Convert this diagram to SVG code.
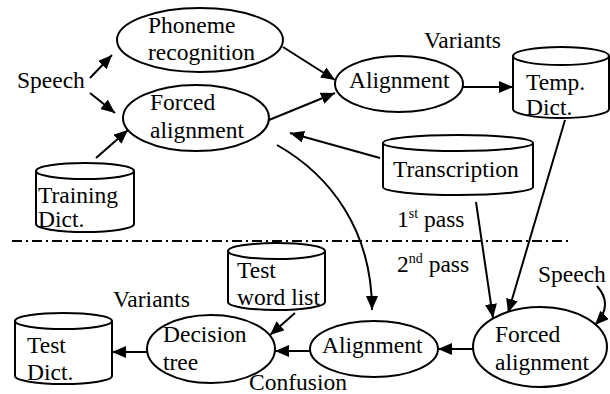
<svg xmlns="http://www.w3.org/2000/svg" width="610" height="394" viewBox="0 0 610 394">
<style>
.n{fill:#fff;stroke:#000;stroke-width:2}
.c{fill:none;stroke:#000;stroke-width:2}
.t{font-family:'Liberation Serif','Times New Roman',serif;font-size:23.5px;fill:#000}
</style>
<defs>
<marker id="ah" markerUnits="userSpaceOnUse" markerWidth="16" markerHeight="14" refX="14" refY="6" orient="auto">
<path d="M0,0 L14,6 L0,12 z" fill="#000"/>
</marker>
</defs>
<rect width="610" height="394" fill="#fff"/>
<g id="connectors">
<path class="c" marker-end="url(#ah)" d="M90,78 L112,55"/>
<path class="c" marker-end="url(#ah)" d="M90,93 L115,113"/>
<path class="c" marker-end="url(#ah)" d="M96,158 L128,130"/>
<path class="c" marker-end="url(#ah)" d="M283,47 L335,80"/>
<path class="c" marker-end="url(#ah)" d="M269,120 L335,93"/>
<path class="c" marker-end="url(#ah)" d="M463,87 L513,87"/>
<path class="c" marker-end="url(#ah)" d="M380,158 L290,133"/>
<path class="c" marker-end="url(#ah)" d="M277,145 C330,175 372,230 372,310"/>
<path class="c" marker-end="url(#ah)" d="M476,202 L493,318"/>
<path class="c" marker-end="url(#ah)" d="M565,120 L508,313"/>
<path class="c" marker-end="url(#ah)" d="M597,286 Q614,305 595,325"/>
<path class="c" marker-end="url(#ah)" d="M473,349 L438,349"/>
<path class="c" marker-end="url(#ah)" d="M310,351 L275,351"/>
<path class="c" marker-end="url(#ah)" d="M147,352 L112,352"/>
<path class="c" marker-end="url(#ah)" d="M295,313 L270,335"/>
<path class="c" stroke-dasharray="10,4,2,4" d="M12,241 L570,241"/>
</g>
<g id="phoneme">
<ellipse class="n" cx="200" cy="40" rx="83" ry="32"/>
<text class="t" x="148" y="33">Phoneme</text>
<text class="t" x="148" y="60">recognition</text>
</g>
<g id="forced1">
<ellipse class="n" cx="196" cy="118" rx="73" ry="33"/>
<text class="t" x="150" y="110">Forced</text>
<text class="t" x="150" y="138">alignment</text>
</g>
<g id="align1">
<ellipse class="n" cx="399" cy="84" rx="64" ry="28"/>
<text class="t" x="349" y="88">Alignment</text>
</g>
<g id="training">
<path class="n" d="M36,171 A49,8 0 0 1 134,171 L134,224 A49,8 0 0 1 36,224 Z"/>
<path class="c" d="M36,171 A49,8 0 0 0 134,171"/>
<text class="t" x="38" y="203">Training</text>
<text class="t" x="38" y="227">Dict.</text>
</g>
<g id="temp">
<path class="n" d="M513,56 A48,9 0 0 1 609,56 L609,109 A48,9 0 0 1 513,109 Z"/>
<path class="c" d="M513,56 A48,9 0 0 0 609,56"/>
<text class="t" x="526" y="90">Temp.</text>
<text class="t" x="526" y="115">Dict.</text>
</g>
<g id="transcription">
<path class="n" d="M383,143 A75,8 0 0 1 533,143 L533,187 A75,8 0 0 1 383,187 Z"/>
<path class="c" d="M383,143 A75,8 0 0 0 533,143"/>
<text class="t" x="393" y="177">Transcription</text>
</g>
<g id="labels">
<text class="t" x="17" y="88">Speech</text>
<text class="t" x="424" y="48">Variants</text>
<text class="t" x="397" y="227">1<tspan font-size="14" dy="-9">st</tspan><tspan dy="9"> pass</tspan></text>
<text class="t" x="397" y="272">2<tspan font-size="14" dy="-9">nd</tspan><tspan dy="9"> pass</tspan></text>
<text class="t" x="538" y="282">Speech</text>
<text class="t" x="113" y="307">Variants</text>
<text class="t" x="249" y="390">Confusion</text>
</g>
<g id="forced2">
<ellipse class="n" cx="540" cy="347" rx="67" ry="40"/>
<text class="t" x="495" y="342">Forced</text>
<text class="t" x="495" y="370">alignment</text>
</g>
<g id="align2">
<ellipse class="n" cx="374" cy="349" rx="64" ry="28"/>
<text class="t" x="322" y="353">Alignment</text>
</g>
<g id="decision">
<ellipse class="n" cx="211" cy="349" rx="64" ry="34"/>
<text class="t" x="163" y="342">Decision</text>
<text class="t" x="163" y="370">tree</text>
</g>
<g id="testdict">
<path class="n" d="M15,321 A48.5,8 0 0 1 112,321 L112,376 A48.5,8 0 0 1 15,376 Z"/>
<path class="c" d="M15,321 A48.5,8 0 0 0 112,321"/>
<text class="t" x="27" y="353">Test</text>
<text class="t" x="27" y="380">Dict.</text>
</g>
<g id="testword">
<path class="n" d="M228,251 A48.5,8 0 0 1 325,251 L325,302 A48.5,8 0 0 1 228,302 Z"/>
<path class="c" d="M228,251 A48.5,8 0 0 0 325,251"/>
<text class="t" x="237" y="278">Test</text>
<text class="t" x="237" y="305">word list</text>
</g>
</svg>
